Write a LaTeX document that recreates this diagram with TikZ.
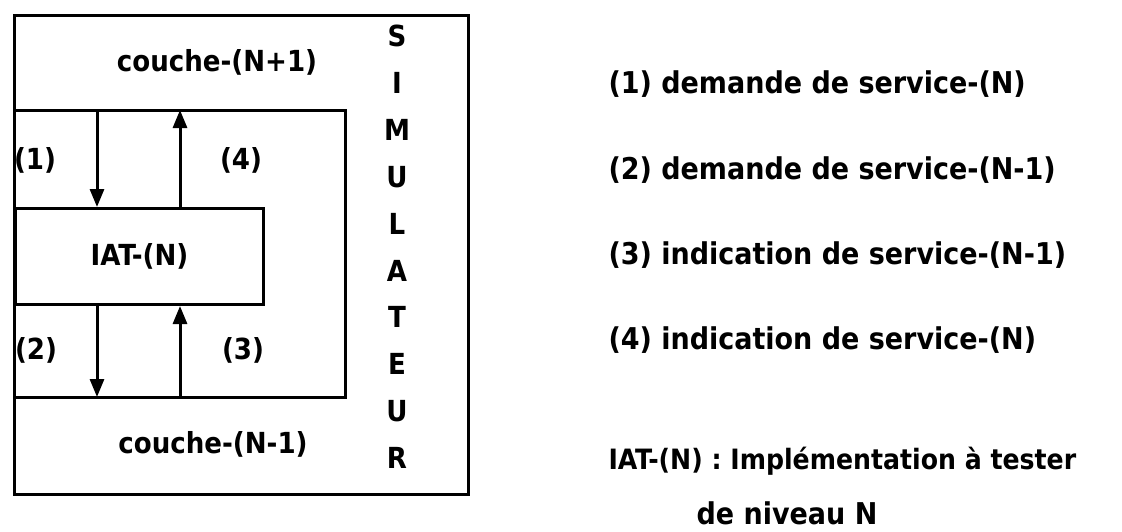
\documentclass[tikz,border=0pt]{standalone}
\usepackage{fontspec}
\setmainfont{DejaVu Sans Condensed}
\usepackage{tikz}
\usetikzlibrary{arrows.meta,positioning,calc}

\begin{document}
\begin{tikzpicture}[x=1pt,y=-1pt,>={Triangle[length=18pt,width=14pt]},line width=3pt,
    font=\fontsize{29}{33}\selectfont\bfseries,
    boite/.style={draw,minimum width=248pt,minimum height=96pt,inner sep=0pt},
    legende/.style={anchor=west,inner sep=0pt,font=\fontsize{30}{34}\selectfont\bfseries}]
  \useasboundingbox (0,0) rectangle (1122,531);
  \draw (14,15) rectangle (468,494);
  \draw (14,110) -- (345,110) -- (345,397) -- (14,397);
  \node[boite,anchor=north west] (iat) at (14,207) {IAT-(N)};
  \node (haut) at (217,62) {couche-(N+1)};
  \node (bas) at (213,444) {couche-(N-1)};
  \coordinate (d1) at (97,110);
  \coordinate (m4) at (180,110);
  \coordinate (d2) at (97,397);
  \coordinate (m3) at (180,397);
  \draw[->] (d1) -- (d1 |- iat.north);
  \draw[->] (m4 |- iat.north) -- (m4);
  \draw[->] (d2 |- iat.south) -- (d2);
  \draw[->] (m3) -- (m3 |- iat.south);
  \node (e1) at (35,160) {(1)};
  \node (e4) at (241,160) {(4)};
  \node (e2) at (36,350) {(2)};
  \node (e3) at (243,350) {(3)};
  \foreach \l [count=\i from 0] in {S,I,M,U,L,A,T,E,U,R}
    \node (s\i) at (397,36+46.9*\i) {\l};
  \node[legende] (l1) at (607,84) {(1) demande de service-(N)};
  \node[legende] (l2) at (607,170) {(2) demande de service-(N-1)};
  \node[legende] (l3) at (607,255) {(3) indication de service-(N-1)};
  \node[legende] (l4) at (607,340) {(4) indication de service-(N)};
  \node[legende,font=\fontsize{28}{32}\selectfont\bfseries] (l5) at (607,461) {IAT-(N) : Implémentation à tester};
  \node[font=\fontsize{30}{34}\selectfont\bfseries] (l6) at (787,513) {de niveau N};
\end{tikzpicture}
\end{document}
